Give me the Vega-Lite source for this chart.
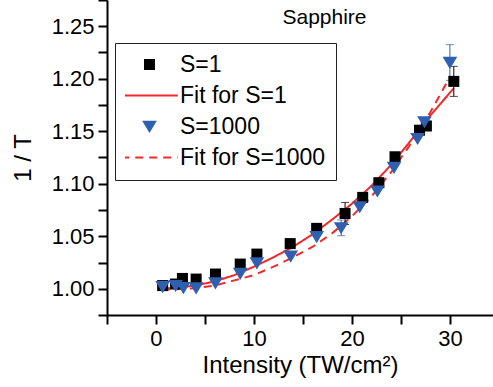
{
  "$schema": "https://vega.github.io/schema/vega-lite/v6.json",
  "width": 386,
  "height": 315,
  "autosize": {"type": "none"},
  "padding": {"left": 107, "top": 0, "right": 0, "bottom": 72},
  "background": "white",
  "config": {
    "view": {"stroke": null},
    "font": "Liberation Sans",
    "axis": {
      "grid": false,
      "domainColor": "black",
      "domainWidth": 2,
      "tickColor": "black",
      "tickWidth": 2,
      "labelFont": "Liberation Sans",
      "labelFontSize": 22,
      "labelColor": "black",
      "titleFont": "Liberation Sans",
      "titleFontSize": 24,
      "titleFontWeight": "normal",
      "titleColor": "black"
    },
    "legend": {
      "orient": "none",
      "legendX": 8,
      "legendY": 43,
      "padding": 10,
      "strokeColor": "#222222",
      "fillColor": "white",
      "labelFontSize": 23,
      "labelFont": "Liberation Sans",
      "labelColor": "black",
      "symbolSize": 3200,
      "symbolStrokeWidth": 2,
      "clipHeight": 23,
      "rowPadding": 7,
      "symbolOffset": -5,
      "labelOffset": 1,
      "labelExpr": "datum.label + '\u2003\u2003\u2003\u2003'"
    }
  },
  "datasets": {
    "pts": [
      {"I": 0.68, "v": 1.003, "series": "S=1"},
      {"I": 2.0, "v": 1.0045, "series": "S=1"},
      {"I": 2.7, "v": 1.0098, "series": "S=1"},
      {"I": 4.1, "v": 1.0092, "series": "S=1"},
      {"I": 6.07, "v": 1.014, "series": "S=1"},
      {"I": 8.6, "v": 1.0235, "series": "S=1"},
      {"I": 10.3, "v": 1.033, "series": "S=1"},
      {"I": 13.7, "v": 1.043, "series": "S=1"},
      {"I": 16.4, "v": 1.0575, "series": "S=1"},
      {"I": 19.3, "v": 1.0717, "series": "S=1"},
      {"I": 21.1, "v": 1.087, "series": "S=1"},
      {"I": 22.75, "v": 1.101, "series": "S=1"},
      {"I": 24.4, "v": 1.1257, "series": "S=1"},
      {"I": 26.9, "v": 1.151, "series": "S=1"},
      {"I": 27.6, "v": 1.155, "series": "S=1"},
      {"I": 30.4, "v": 1.1975, "series": "S=1"},
      {"I": 0.68, "v": 1.002, "series": "S=1000"},
      {"I": 2.0, "v": 1.003, "series": "S=1000"},
      {"I": 2.8, "v": 1.001, "series": "S=1000"},
      {"I": 4.1, "v": 1.0007, "series": "S=1000"},
      {"I": 6.07, "v": 1.0055, "series": "S=1000"},
      {"I": 8.6, "v": 1.0146, "series": "S=1000"},
      {"I": 10.3, "v": 1.0245, "series": "S=1000"},
      {"I": 13.75, "v": 1.031, "series": "S=1000"},
      {"I": 16.4, "v": 1.0495, "series": "S=1000"},
      {"I": 18.9, "v": 1.058, "series": "S=1000"},
      {"I": 20.8, "v": 1.078, "series": "S=1000"},
      {"I": 22.6, "v": 1.093, "series": "S=1000"},
      {"I": 24.3, "v": 1.1155, "series": "S=1000"},
      {"I": 26.7, "v": 1.143, "series": "S=1000"},
      {"I": 27.4, "v": 1.159, "series": "S=1000"},
      {"I": 30.0, "v": 1.2155, "series": "S=1000"}
    ],
    "fits": [
      {"I": 0.6, "v": 1.0, "series": "Fit for S=1"},
      {"I": 2, "v": 1.001, "series": "Fit for S=1"},
      {"I": 4, "v": 1.003, "series": "Fit for S=1"},
      {"I": 6, "v": 1.007, "series": "Fit for S=1"},
      {"I": 8, "v": 1.013, "series": "Fit for S=1"},
      {"I": 10, "v": 1.021, "series": "Fit for S=1"},
      {"I": 12, "v": 1.030, "series": "Fit for S=1"},
      {"I": 14, "v": 1.040, "series": "Fit for S=1"},
      {"I": 16, "v": 1.052, "series": "Fit for S=1"},
      {"I": 18, "v": 1.066, "series": "Fit for S=1"},
      {"I": 20, "v": 1.081, "series": "Fit for S=1"},
      {"I": 22, "v": 1.098, "series": "Fit for S=1"},
      {"I": 24, "v": 1.118, "series": "Fit for S=1"},
      {"I": 26, "v": 1.141, "series": "Fit for S=1"},
      {"I": 28, "v": 1.165, "series": "Fit for S=1"},
      {"I": 30.4, "v": 1.191, "series": "Fit for S=1"},
      {"I": 0.6, "v": 0.999, "series": "Fit for S=1000"},
      {"I": 2, "v": 0.9995, "series": "Fit for S=1000"},
      {"I": 4, "v": 1.0005, "series": "Fit for S=1000"},
      {"I": 6, "v": 1.003, "series": "Fit for S=1000"},
      {"I": 8, "v": 1.008, "series": "Fit for S=1000"},
      {"I": 10, "v": 1.013, "series": "Fit for S=1000"},
      {"I": 12, "v": 1.021, "series": "Fit for S=1000"},
      {"I": 14, "v": 1.030, "series": "Fit for S=1000"},
      {"I": 16, "v": 1.040, "series": "Fit for S=1000"},
      {"I": 18, "v": 1.053, "series": "Fit for S=1000"},
      {"I": 20, "v": 1.069, "series": "Fit for S=1000"},
      {"I": 22, "v": 1.088, "series": "Fit for S=1000"},
      {"I": 24, "v": 1.111, "series": "Fit for S=1000"},
      {"I": 26, "v": 1.138, "series": "Fit for S=1000"},
      {"I": 28, "v": 1.168, "series": "Fit for S=1000"},
      {"I": 29.9, "v": 1.200, "series": "Fit for S=1000"}
    ],
    "err": [
      {"I": 19.3, "v": 1.0612, "hi": 1.0822, "series": "S=1"},
      {"I": 30.4, "v": 1.1832, "hi": 1.2118, "series": "S=1"},
      {"I": 18.9, "v": 1.0505, "hi": 1.0655, "series": "S=1000"},
      {"I": 30.0, "v": 1.1985, "hi": 1.2325, "series": "S=1000"}
    ],
    "label": [
      {"I": 17.2, "v": 1.258, "text": "Sapphire"}
    ]
  },
  "encoding": {
    "x": {
      "field": "I", "type": "quantitative",
      "scale": {"domain": [-5, 34.4], "nice": false, "zero": false},
      "axis": {
        "title": "Intensity (TW/cm²)",
        "values": [-5, 0, 5, 10, 15, 20, 25, 30],
        "labelExpr": "datum.value % 10 == 0 ? datum.label : ''",
        "tickSize": 9,
        "labelPadding": 4,
        "titlePadding": 4,
        "encode": {"ticks": {"y2": {"value": {"expr": "datum.value % 10 == 0 ? 9 : 5"}}}}
      }
    },
    "y": {
      "field": "v", "type": "quantitative",
      "scale": {"domain": [0.975, 1.275], "nice": false, "zero": false},
      "axis": {
        "title": "1 / T",
        "values": [0.975, 1.0, 1.025, 1.05, 1.075, 1.1, 1.125, 1.15, 1.175, 1.2, 1.225, 1.25, 1.275],
        "labelExpr": "abs(datum.value*20 - round(datum.value*20)) < 0.001 ? format(datum.value, '.2f') : ''",
        "tickSize": 9,
        "labelPadding": 4,
        "titlePadding": 16,
        "encode": {"ticks": {"x2": {"value": {"expr": "abs(datum.value*20 - round(datum.value*20)) < 0.001 ? -9 : -5"}}}}
      }
    }
  },
  "layer": [
    {
      "data": {"name": "fits"},
      "mark": {"type": "line", "strokeWidth": 2},
      "encoding": {
        "stroke": {
          "field": "series", "type": "nominal",
          "scale": {
            "domain": ["S=1", "Fit for S=1", "S=1000", "Fit for S=1000"],
            "range": ["transparent", "#ee2a2a", "transparent", "#ee2a2a"]
          },
          "legend": {"title": null}
        },
        "strokeDash": {
          "field": "series", "type": "nominal",
          "scale": {
            "domain": ["S=1", "Fit for S=1", "S=1000", "Fit for S=1000"],
            "range": [[1, 0], [1, 0], [1, 0], [8, 6]]
          },
          "legend": {"title": null}
        }
      }
    },
    {
      "data": {"name": "err"},
      "transform": [{"filter": "datum.series == 'S=1'"}],
      "mark": {"type": "errorbar", "ticks": {"size": 8}, "thickness": 1, "color": "black"},
      "encoding": {
        "y2": {"field": "hi"}
      }
    },
    {
      "data": {"name": "err"},
      "transform": [{"filter": "datum.series == 'S=1000'"}],
      "mark": {"type": "errorbar", "ticks": {"size": 8}, "thickness": 1, "color": "#2f5faf"},
      "encoding": {
        "y2": {"field": "hi"}
      }
    },
    {
      "data": {"name": "pts"},
      "mark": {"type": "point", "filled": true, "opacity": 1, "strokeWidth": 0, "size": 3200},
      "encoding": {
        "fill": {
          "field": "series", "type": "nominal",
          "scale": {
            "domain": ["S=1", "Fit for S=1", "S=1000", "Fit for S=1000"],
            "range": ["#000000", "transparent", "#2f5faf", "transparent"]
          },
          "legend": {"title": null}
        },
        "shape": {
          "field": "series", "type": "nominal",
          "scale": {
            "domain": ["S=1", "Fit for S=1", "S=1000", "Fit for S=1000"],
            "range": [
              "M-0.195,-0.195H0.195V0.195H-0.195Z",
              "M-1,0H1",
              "M-0.26,-0.2L0.26,-0.2L0,0.23Z",
              "M-1,0H1"
            ]
          },
          "legend": {"title": null}
        }
      }
    },
    {
      "data": {"name": "label"},
      "mark": {"type": "text", "fontSize": 21, "font": "Liberation Sans", "color": "black", "align": "center", "baseline": "middle"},
      "encoding": {
        "text": {"field": "text"}
      }
    }
  ]
}
